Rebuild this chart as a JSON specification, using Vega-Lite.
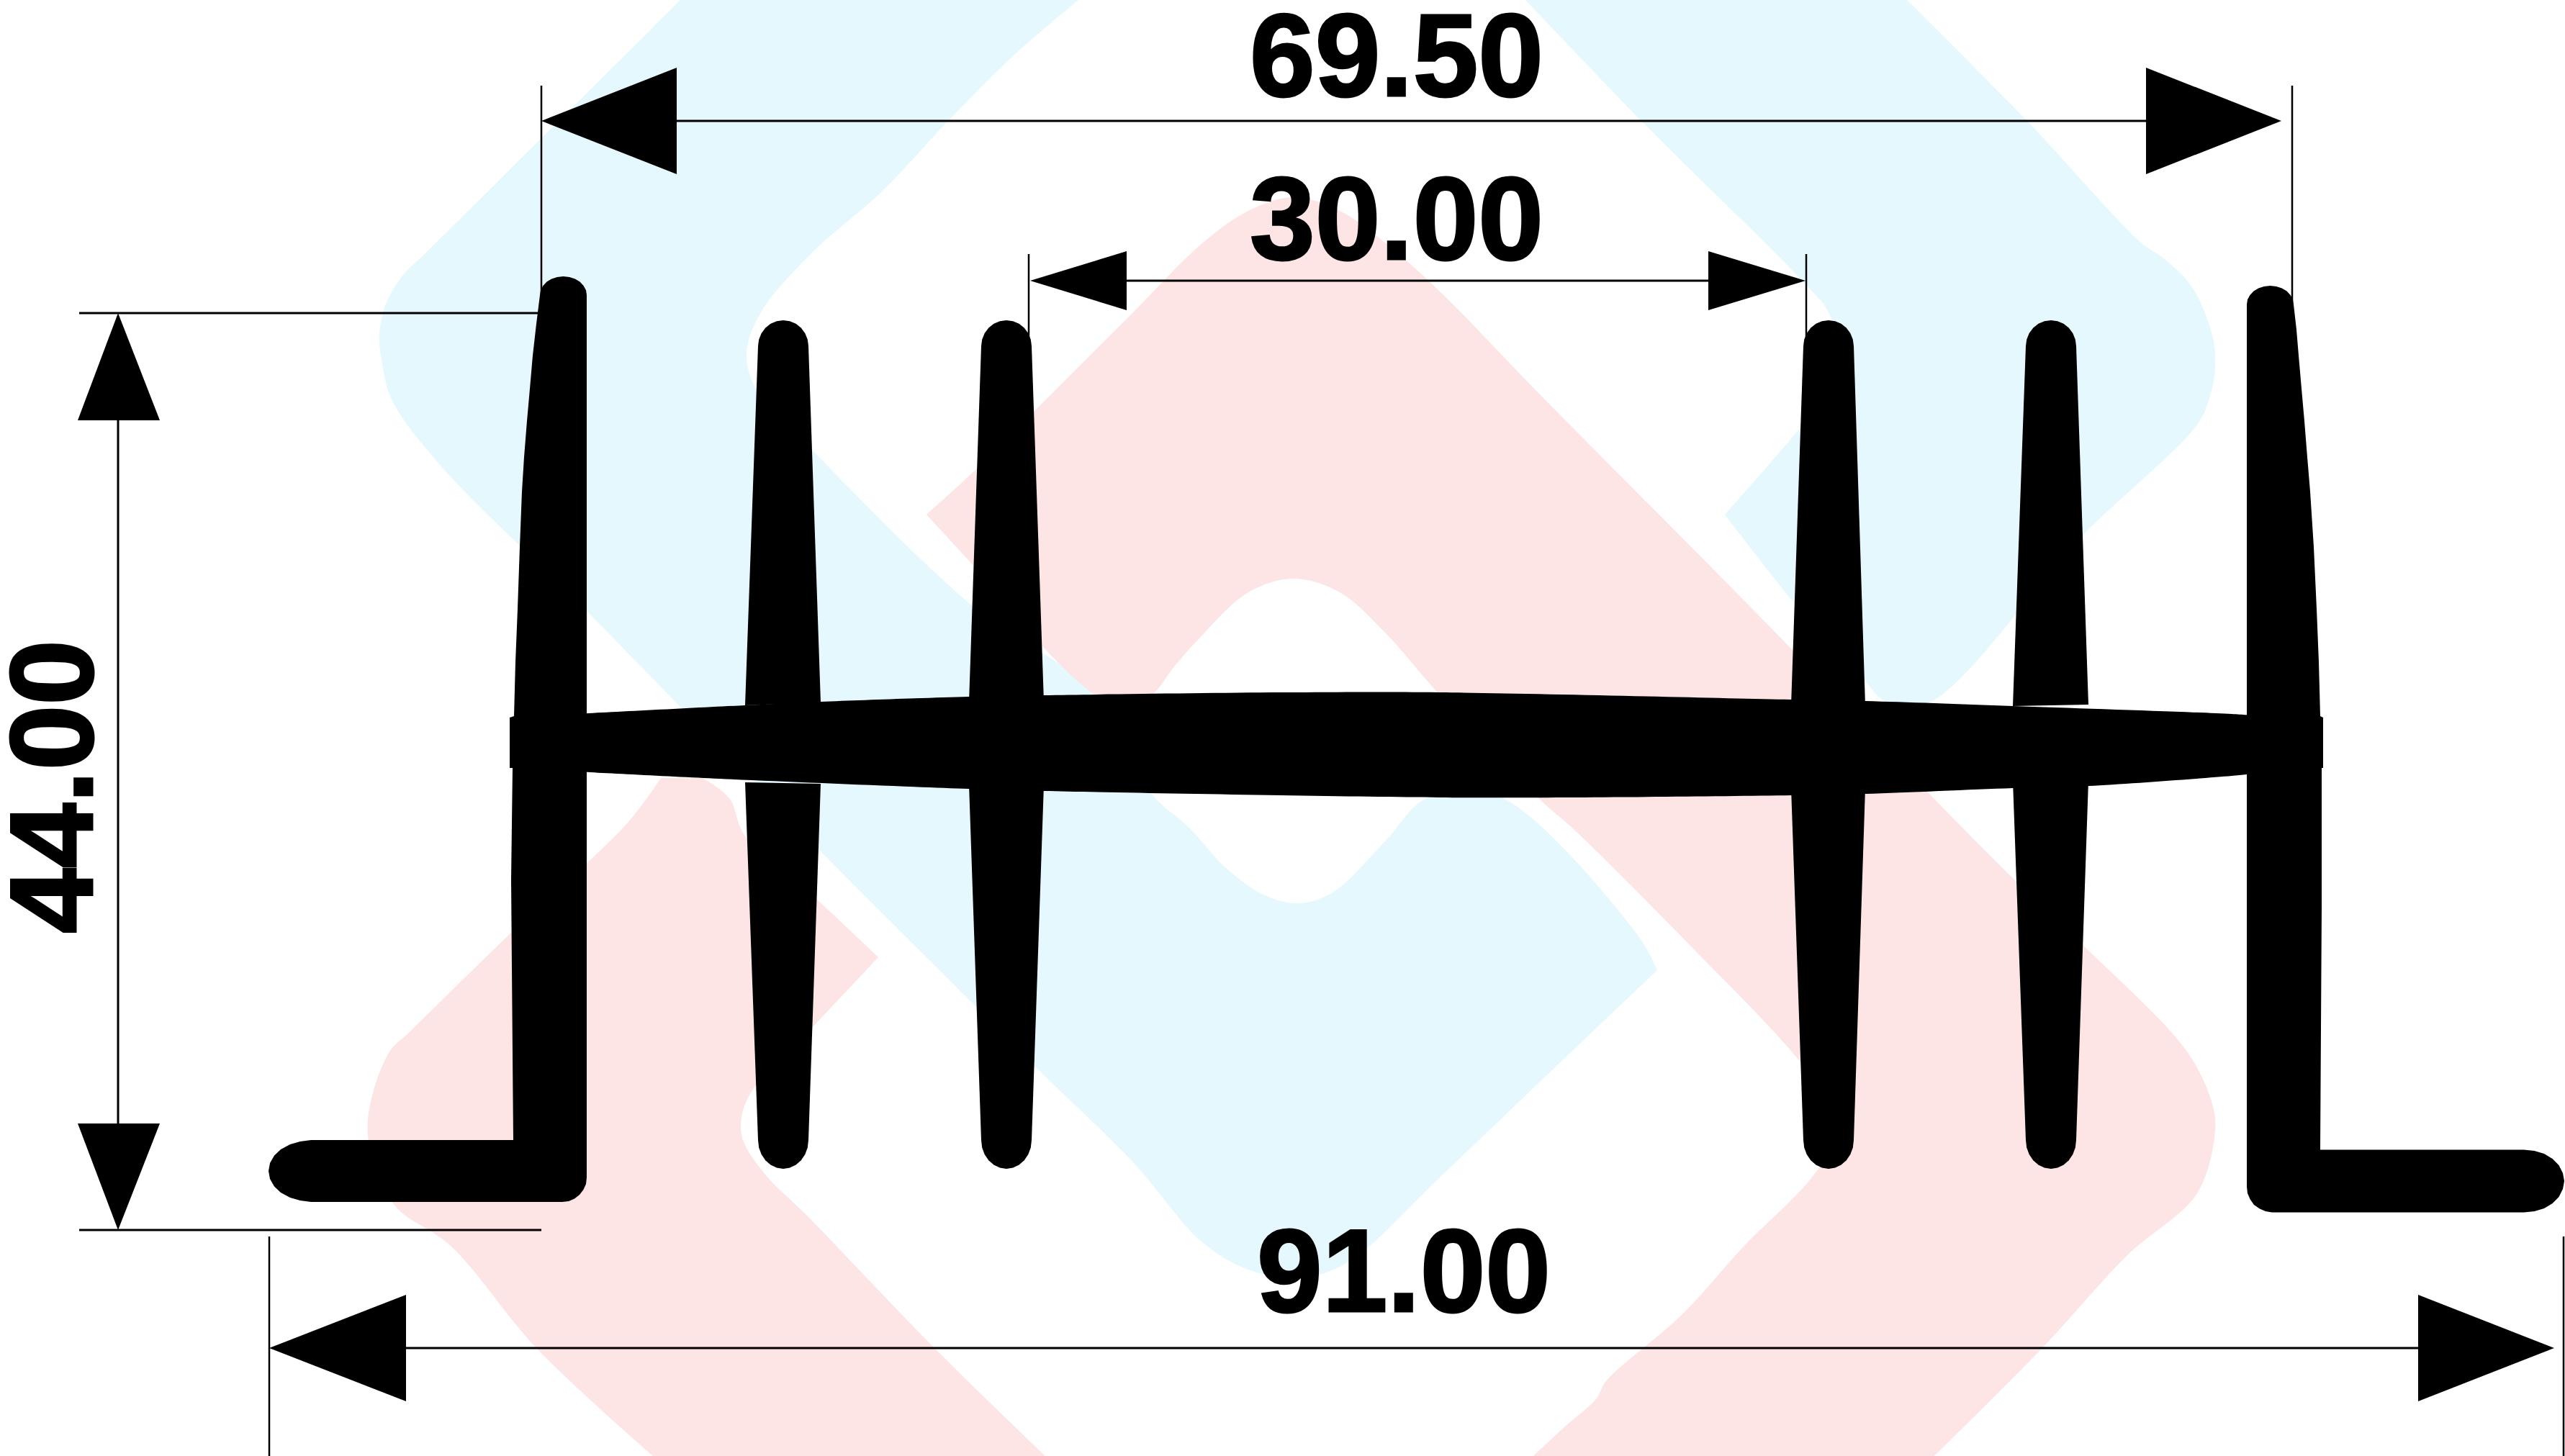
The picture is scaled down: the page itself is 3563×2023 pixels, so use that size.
{"$schema":"https://vega.github.io/schema/vega-lite/v6.json","width":3563,"height":2023,"padding":0,"autosize":{"type":"none"},"background":"#ffffff","config":{"view":{"stroke":null}},
"datasets":{
"blue":[
{"shape":"b1","i":1,"x":945,"y":0},{"shape":"b1","i":1.5,"x":900,"y":45},{"shape":"b1","i":1.7,"x":600,"y":343},{"shape":"b1","i":2,"x":557,"y":386},{"shape":"b1","i":3,"x":535,"y":425},{"shape":"b1","i":4,"x":527,"y":466},{"shape":"b1","i":5,"x":532,"y":512},{"shape":"b1","i":6,"x":545,"y":557},{"shape":"b1","i":7,"x":613,"y":648},{"shape":"b1","i":8,"x":818,"y":852},{"shape":"b1","i":9,"x":1140,"y":1183},{"shape":"b1","i":10,"x":1354,"y":1397},{"shape":"b1","i":11,"x":1440,"y":1484},{"shape":"b1","i":12,"x":1574,"y":1615},{"shape":"b1","i":13,"x":1670,"y":1726},{"shape":"b1","i":14,"x":1734,"y":1764},{"shape":"b1","i":15,"x":1797,"y":1776},{"shape":"b1","i":16,"x":1850,"y":1765},{"shape":"b1","i":17,"x":1893,"y":1739},{"shape":"b1","i":18,"x":2000,"y":1636},{"shape":"b1","i":19,"x":2302,"y":1348},{"shape":"b1","i":19.5,"x":2302,"y":1348},{"shape":"b1","i":20,"x":2274,"y":1298},{"shape":"b1","i":21,"x":2081,"y":1106},{"shape":"b1","i":22,"x":1982,"y":1109},{"shape":"b1","i":23,"x":1925,"y":1168},{"shape":"b1","i":24,"x":1861,"y":1233},{"shape":"b1","i":25,"x":1830,"y":1250},{"shape":"b1","i":26,"x":1797,"y":1255},{"shape":"b1","i":27,"x":1753,"y":1242},{"shape":"b1","i":28,"x":1702,"y":1205},{"shape":"b1","i":29,"x":1651,"y":1149},{"shape":"b1","i":30,"x":1600,"y":1103},{"shape":"b1","i":31,"x":1530,"y":970},{"shape":"b1","i":32,"x":1351,"y":842},{"shape":"b1","i":33,"x":1128,"y":625},{"shape":"b1","i":34,"x":1051,"y":542},{"shape":"b1","i":35,"x":1037,"y":491},{"shape":"b1","i":36,"x":1057,"y":434},{"shape":"b1","i":37,"x":1128,"y":351},{"shape":"b1","i":38,"x":1223,"y":268},{"shape":"b1","i":39,"x":1319,"y":166},{"shape":"b1","i":40,"x":1408,"y":77},{"shape":"b1","i":41,"x":1498,"y":0},
{"shape":"b2","i":1,"x":2119,"y":0},{"shape":"b2","i":2,"x":2281,"y":169},{"shape":"b2","i":3,"x":2509,"y":396},{"shape":"b2","i":4,"x":2540,"y":434},{"shape":"b2","i":5,"x":2560,"y":520},{"shape":"b2","i":6,"x":2491,"y":606},{"shape":"b2","i":7,"x":2396,"y":715},{"shape":"b2","i":7.5,"x":2396,"y":715},{"shape":"b2","i":8,"x":2491,"y":836},{"shape":"b2","i":9,"x":2589,"y":944},{"shape":"b2","i":10,"x":2621,"y":976},{"shape":"b2","i":11,"x":2680,"y":976},{"shape":"b2","i":12,"x":2891,"y":746},{"shape":"b2","i":13,"x":3052,"y":590},{"shape":"b2","i":14,"x":3070,"y":550},{"shape":"b2","i":15,"x":3077,"y":510},{"shape":"b2","i":16,"x":3073,"y":466},{"shape":"b2","i":17,"x":3045,"y":399},{"shape":"b2","i":18,"x":3003,"y":357},{"shape":"b2","i":19,"x":2975,"y":338},{"shape":"b2","i":20,"x":2814,"y":166},{"shape":"b2","i":21,"x":2649,"y":0}
],
"pink":[
{"shape":"p1","i":1,"x":1287,"y":715},{"shape":"p1","i":2,"x":1357,"y":651},{"shape":"p1","i":3,"x":1447,"y":561},{"shape":"p1","i":4,"x":1574,"y":434},{"shape":"p1","i":5,"x":1670,"y":338},{"shape":"p1","i":6,"x":1734,"y":293},{"shape":"p1","i":7,"x":1797,"y":274},{"shape":"p1","i":8,"x":1861,"y":293},{"shape":"p1","i":9,"x":1925,"y":338},{"shape":"p1","i":10,"x":2000,"y":405},{"shape":"p1","i":11,"x":2140,"y":549},{"shape":"p1","i":12,"x":2487,"y":900},{"shape":"p1","i":13,"x":2680,"y":1103},{"shape":"p1","i":14,"x":2800,"y":1224},{"shape":"p1","i":15,"x":2891,"y":1311},{"shape":"p1","i":16,"x":3017,"y":1435},{"shape":"p1","i":17,"x":3050,"y":1480},{"shape":"p1","i":18,"x":3073,"y":1534},{"shape":"p1","i":19,"x":3077,"y":1571},{"shape":"p1","i":20,"x":3052,"y":1658},{"shape":"p1","i":21,"x":2954,"y":1745},{"shape":"p1","i":22,"x":2835,"y":1875},{"shape":"p1","i":23,"x":2687,"y":2023},{"shape":"p1","i":23.5,"x":2687,"y":2023},{"shape":"p1","i":24,"x":2130,"y":2023},{"shape":"p1","i":24.5,"x":2130,"y":2023},{"shape":"p1","i":25,"x":2175,"y":1981},{"shape":"p1","i":26,"x":2217,"y":1944},{"shape":"p1","i":27,"x":2231,"y":1919},{"shape":"p1","i":28,"x":2337,"y":1826},{"shape":"p1","i":29,"x":2421,"y":1733},{"shape":"p1","i":30,"x":2519,"y":1633},{"shape":"p1","i":31,"x":2560,"y":1560},{"shape":"p1","i":32,"x":2498,"y":1472},{"shape":"p1","i":33,"x":2351,"y":1317},{"shape":"p1","i":34,"x":2189,"y":1155},{"shape":"p1","i":35,"x":2137,"y":1109},{"shape":"p1","i":36,"x":1995,"y":960},{"shape":"p1","i":37,"x":1925,"y":880},{"shape":"p1","i":38,"x":1861,"y":823},{"shape":"p1","i":39,"x":1797,"y":804},{"shape":"p1","i":40,"x":1734,"y":823},{"shape":"p1","i":41,"x":1663,"y":890},{"shape":"p1","i":42,"x":1632,"y":925},{"shape":"p1","i":43,"x":1593,"y":970},{"shape":"p1","i":44,"x":1530,"y":970},{"shape":"p1","i":45,"x":1357,"y":791},
{"shape":"p2","i":1,"x":918,"y":1081},{"shape":"p2","i":2,"x":872,"y":1143},{"shape":"p2","i":3,"x":712,"y":1294},{"shape":"p2","i":3.5,"x":570,"y":1433},{"shape":"p2","i":4,"x":540,"y":1463},{"shape":"p2","i":5,"x":511,"y":1555},{"shape":"p2","i":6,"x":520,"y":1620},{"shape":"p2","i":7,"x":551,"y":1678},{"shape":"p2","i":8,"x":626,"y":1731},{"shape":"p2","i":9,"x":746,"y":1874},{"shape":"p2","i":10,"x":907,"y":2023},{"shape":"p2","i":10.5,"x":907,"y":2023},{"shape":"p2","i":11,"x":1452,"y":2023},{"shape":"p2","i":11.5,"x":1452,"y":2023},{"shape":"p2","i":12,"x":1300,"y":1875},{"shape":"p2","i":13,"x":1121,"y":1689},{"shape":"p2","i":14,"x":1064,"y":1633},{"shape":"p2","i":15,"x":1032,"y":1584},{"shape":"p2","i":16,"x":1030,"y":1553},{"shape":"p2","i":17,"x":1045,"y":1515},{"shape":"p2","i":18,"x":1128,"y":1428},{"shape":"p2","i":19,"x":1220,"y":1330},{"shape":"p2","i":19.5,"x":1220,"y":1330},{"shape":"p2","i":20,"x":1137,"y":1252},{"shape":"p2","i":21,"x":1035,"y":1162},{"shape":"p2","i":22,"x":1013,"y":1109},{"shape":"p2","i":23,"x":976,"y":1081}
],
"smooth":[
{"shape":"W","i":1,"x":800,"y":992},{"shape":"W","i":2,"x":1035,"y":980},{"shape":"W","i":3,"x":1140,"y":975},{"shape":"W","i":4,"x":1346,"y":968},{"shape":"W","i":5,"x":1450,"y":966},{"shape":"W","i":6,"x":1797,"y":962},{"shape":"W","i":7,"x":2000,"y":962},{"shape":"W","i":8,"x":2488,"y":972},{"shape":"W","i":9,"x":2591,"y":974},{"shape":"W","i":10,"x":2796,"y":981},{"shape":"W","i":11,"x":3100,"y":992},{"shape":"W","i":12,"x":3130,"y":994},{"shape":"W","i":12.5,"x":3130,"y":994},{"shape":"W","i":13,"x":3130,"y":1075},{"shape":"W","i":13.5,"x":3130,"y":1075},{"shape":"W","i":14,"x":3100,"y":1078},{"shape":"W","i":15,"x":2901,"y":1092},{"shape":"W","i":16,"x":2796,"y":1095},{"shape":"W","i":17,"x":2591,"y":1103},{"shape":"W","i":18,"x":2488,"y":1105},{"shape":"W","i":19,"x":2175,"y":1108},{"shape":"W","i":20,"x":2000,"y":1108},{"shape":"W","i":21,"x":1450,"y":1099},{"shape":"W","i":22,"x":1346,"y":1096},{"shape":"W","i":23,"x":1000,"y":1082},{"shape":"W","i":24,"x":800,"y":1072}
],
"profile":[
{"shape":"L1","i":1,"x":750,"y":410},{"shape":"L1","i":2,"x":751,"y":403.3},{"shape":"L1","i":3,"x":754.4,"y":397},{"shape":"L1","i":4,"x":759.5,"y":391.6},{"shape":"L1","i":5,"x":766.2,"y":387.5},{"shape":"L1","i":6,"x":774,"y":384.9},{"shape":"L1","i":7,"x":782.5,"y":384},{"shape":"L1","i":8,"x":791,"y":384.9},{"shape":"L1","i":9,"x":798.8,"y":387.5},{"shape":"L1","i":10,"x":805.5,"y":391.6},{"shape":"L1","i":11,"x":810.6,"y":397},{"shape":"L1","i":12,"x":814,"y":403.3},{"shape":"L1","i":13,"x":815,"y":410},{"shape":"L1","i":14,"x":815,"y":1636},{"shape":"L1","i":15,"x":814,"y":1645},{"shape":"L1","i":16,"x":810.4,"y":1653},{"shape":"L1","i":17,"x":805,"y":1660},{"shape":"L1","i":18,"x":798,"y":1665.4},{"shape":"L1","i":19,"x":790,"y":1669},{"shape":"L1","i":20,"x":781,"y":1670},{"shape":"L1","i":21,"x":432,"y":1670},{"shape":"L1","i":22,"x":417,"y":1668},{"shape":"L1","i":23,"x":403,"y":1664},{"shape":"L1","i":24,"x":390,"y":1657},{"shape":"L1","i":25,"x":381,"y":1648.5},{"shape":"L1","i":26,"x":375,"y":1638},{"shape":"L1","i":27,"x":373,"y":1627},{"shape":"L1","i":28,"x":375,"y":1616},{"shape":"L1","i":29,"x":381,"y":1605.5},{"shape":"L1","i":30,"x":390,"y":1597},{"shape":"L1","i":31,"x":403,"y":1590},{"shape":"L1","i":32,"x":417,"y":1586},{"shape":"L1","i":33,"x":432,"y":1584},{"shape":"L1","i":34,"x":713,"y":1584},{"shape":"L1","i":35,"x":710,"y":1222},{"shape":"L1","i":36,"x":712,"y":1067},{"shape":"L1","i":37,"x":708,"y":1067},{"shape":"L1","i":38,"x":708,"y":997},{"shape":"L1","i":39,"x":714,"y":995},{"shape":"L1","i":40,"x":716,"y":920},{"shape":"L1","i":41,"x":719,"y":846},{"shape":"L1","i":42,"x":722,"y":760},{"shape":"L1","i":43,"x":725,"y":683},{"shape":"L1","i":44,"x":728,"y":635},{"shape":"L1","i":45,"x":732,"y":585},{"shape":"L1","i":46,"x":736,"y":540},{"shape":"L1","i":47,"x":740,"y":494},{"shape":"L1","i":48,"x":745,"y":450},
{"shape":"L2","i":1,"x":3121,"y":423},{"shape":"L2","i":2,"x":3122,"y":416.3},{"shape":"L2","i":3,"x":3125.4,"y":410},{"shape":"L2","i":4,"x":3130.5,"y":404.6},{"shape":"L2","i":5,"x":3137.2,"y":400.5},{"shape":"L2","i":6,"x":3145,"y":397.9},{"shape":"L2","i":7,"x":3153.5,"y":397},{"shape":"L2","i":8,"x":3162,"y":397.9},{"shape":"L2","i":9,"x":3169.8,"y":400.5},{"shape":"L2","i":10,"x":3176.5,"y":404.6},{"shape":"L2","i":11,"x":3181.6,"y":410},{"shape":"L2","i":12,"x":3185,"y":416.3},{"shape":"L2","i":13,"x":3186,"y":423},{"shape":"L2","i":14,"x":3190,"y":458},{"shape":"L2","i":15,"x":3193,"y":494},{"shape":"L2","i":16,"x":3197,"y":540},{"shape":"L2","i":17,"x":3201,"y":585},{"shape":"L2","i":18,"x":3205,"y":635},{"shape":"L2","i":19,"x":3209,"y":683},{"shape":"L2","i":20,"x":3214,"y":760},{"shape":"L2","i":21,"x":3218,"y":846},{"shape":"L2","i":22,"x":3221,"y":920},{"shape":"L2","i":23,"x":3223,"y":995},{"shape":"L2","i":24,"x":3227,"y":997},{"shape":"L2","i":25,"x":3227,"y":1067},{"shape":"L2","i":26,"x":3225,"y":1067},{"shape":"L2","i":27,"x":3225,"y":1261},{"shape":"L2","i":28,"x":3223,"y":1597.5},{"shape":"L2","i":29,"x":3506,"y":1597.5},{"shape":"L2","i":30,"x":3520.5,"y":1599},{"shape":"L2","i":31,"x":3534,"y":1603},{"shape":"L2","i":32,"x":3545.6,"y":1610},{"shape":"L2","i":33,"x":3554.5,"y":1619},{"shape":"L2","i":34,"x":3560,"y":1630},{"shape":"L2","i":35,"x":3562,"y":1641},{"shape":"L2","i":36,"x":3560,"y":1652},{"shape":"L2","i":37,"x":3554.5,"y":1663},{"shape":"L2","i":38,"x":3545.6,"y":1672},{"shape":"L2","i":39,"x":3534,"y":1679},{"shape":"L2","i":40,"x":3520.5,"y":1683},{"shape":"L2","i":41,"x":3506,"y":1684.5},{"shape":"L2","i":42,"x":3156,"y":1684.5},{"shape":"L2","i":43,"x":3147,"y":1683},{"shape":"L2","i":44,"x":3138.5,"y":1679.3},{"shape":"L2","i":45,"x":3131,"y":1674},{"shape":"L2","i":46,"x":3125.7,"y":1666.5},{"shape":"L2","i":47,"x":3122,"y":1658},{"shape":"L2","i":48,"x":3121,"y":1649},
{"shape":"F1u","i":0,"x":1035,"y":980},{"shape":"F1u","i":1,"x":1053,"y":481},{"shape":"F1u","i":2,"x":1054.2,"y":471.7},{"shape":"F1u","i":3,"x":1057.7,"y":463},{"shape":"F1u","i":4,"x":1063.3,"y":455.5},{"shape":"F1u","i":5,"x":1070.5,"y":449.8},{"shape":"F1u","i":6,"x":1078.9,"y":446.2},{"shape":"F1u","i":7,"x":1088,"y":445},{"shape":"F1u","i":8,"x":1097.1,"y":446.2},{"shape":"F1u","i":9,"x":1105.5,"y":449.8},{"shape":"F1u","i":10,"x":1112.7,"y":455.5},{"shape":"F1u","i":11,"x":1118.3,"y":463},{"shape":"F1u","i":12,"x":1121.8,"y":471.7},{"shape":"F1u","i":13,"x":1123,"y":481},{"shape":"F1u","i":14,"x":1140,"y":976},
{"shape":"F1l","i":0,"x":1035,"y":1087},{"shape":"F1l","i":0.5,"x":1140,"y":1089},{"shape":"F1l","i":1,"x":1123,"y":1584},{"shape":"F1l","i":2,"x":1121.8,"y":1594.4},{"shape":"F1l","i":3,"x":1118.3,"y":1604},{"shape":"F1l","i":4,"x":1112.7,"y":1612.3},{"shape":"F1l","i":5,"x":1105.5,"y":1618.6},{"shape":"F1l","i":6,"x":1097.1,"y":1622.6},{"shape":"F1l","i":7,"x":1088,"y":1624},{"shape":"F1l","i":8,"x":1078.9,"y":1622.6},{"shape":"F1l","i":9,"x":1070.5,"y":1618.6},{"shape":"F1l","i":10,"x":1063.3,"y":1612.3},{"shape":"F1l","i":11,"x":1057.7,"y":1604},{"shape":"F1l","i":12,"x":1054.2,"y":1594.4},{"shape":"F1l","i":13,"x":1053,"y":1584},
{"shape":"F2","i":0,"x":1346,"y":975},{"shape":"F2","i":1,"x":1363,"y":481},{"shape":"F2","i":2,"x":1364.2,"y":471.7},{"shape":"F2","i":3,"x":1367.7,"y":463},{"shape":"F2","i":4,"x":1373.3,"y":455.5},{"shape":"F2","i":5,"x":1380.5,"y":449.8},{"shape":"F2","i":6,"x":1388.9,"y":446.2},{"shape":"F2","i":7,"x":1398,"y":445},{"shape":"F2","i":8,"x":1407.1,"y":446.2},{"shape":"F2","i":9,"x":1415.5,"y":449.8},{"shape":"F2","i":10,"x":1422.7,"y":455.5},{"shape":"F2","i":11,"x":1428.3,"y":463},{"shape":"F2","i":12,"x":1431.8,"y":471.7},{"shape":"F2","i":13,"x":1433,"y":481},{"shape":"F2","i":14,"x":1450,"y":975},{"shape":"F2","i":15,"x":1450,"y":1090},{"shape":"F2","i":16,"x":1433,"y":1584},{"shape":"F2","i":17,"x":1431.8,"y":1594.4},{"shape":"F2","i":18,"x":1428.3,"y":1604},{"shape":"F2","i":19,"x":1422.7,"y":1612.3},{"shape":"F2","i":20,"x":1415.5,"y":1618.6},{"shape":"F2","i":21,"x":1407.1,"y":1622.6},{"shape":"F2","i":22,"x":1398,"y":1624},{"shape":"F2","i":23,"x":1388.9,"y":1622.6},{"shape":"F2","i":24,"x":1380.5,"y":1618.6},{"shape":"F2","i":25,"x":1373.3,"y":1612.3},{"shape":"F2","i":26,"x":1367.7,"y":1604},{"shape":"F2","i":27,"x":1364.2,"y":1594.4},{"shape":"F2","i":28,"x":1363,"y":1584},{"shape":"F2","i":29,"x":1346,"y":1090},
{"shape":"F3","i":0,"x":2488,"y":980},{"shape":"F3","i":1,"x":2505,"y":481},{"shape":"F3","i":2,"x":2506.2,"y":471.7},{"shape":"F3","i":3,"x":2509.7,"y":463},{"shape":"F3","i":4,"x":2515.3,"y":455.5},{"shape":"F3","i":5,"x":2522.5,"y":449.8},{"shape":"F3","i":6,"x":2530.9,"y":446.2},{"shape":"F3","i":7,"x":2540,"y":445},{"shape":"F3","i":8,"x":2549.1,"y":446.2},{"shape":"F3","i":9,"x":2557.5,"y":449.8},{"shape":"F3","i":10,"x":2564.7,"y":455.5},{"shape":"F3","i":11,"x":2570.3,"y":463},{"shape":"F3","i":12,"x":2573.8,"y":471.7},{"shape":"F3","i":13,"x":2575,"y":481},{"shape":"F3","i":14,"x":2591,"y":980},{"shape":"F3","i":15,"x":2591,"y":1095},{"shape":"F3","i":16,"x":2575,"y":1584},{"shape":"F3","i":17,"x":2573.8,"y":1594.4},{"shape":"F3","i":18,"x":2570.3,"y":1604},{"shape":"F3","i":19,"x":2564.7,"y":1612.3},{"shape":"F3","i":20,"x":2557.5,"y":1618.6},{"shape":"F3","i":21,"x":2549.1,"y":1622.6},{"shape":"F3","i":22,"x":2540,"y":1624},{"shape":"F3","i":23,"x":2530.9,"y":1622.6},{"shape":"F3","i":24,"x":2522.5,"y":1618.6},{"shape":"F3","i":25,"x":2515.3,"y":1612.3},{"shape":"F3","i":26,"x":2509.7,"y":1604},{"shape":"F3","i":27,"x":2506.2,"y":1594.4},{"shape":"F3","i":28,"x":2505,"y":1584},{"shape":"F3","i":29,"x":2488,"y":1095},
{"shape":"F4u","i":0,"x":2796,"y":981},{"shape":"F4u","i":1,"x":2814,"y":481},{"shape":"F4u","i":2,"x":2815.2,"y":471.7},{"shape":"F4u","i":3,"x":2818.7,"y":463},{"shape":"F4u","i":4,"x":2824.3,"y":455.5},{"shape":"F4u","i":5,"x":2831.5,"y":449.8},{"shape":"F4u","i":6,"x":2839.9,"y":446.2},{"shape":"F4u","i":7,"x":2849,"y":445},{"shape":"F4u","i":8,"x":2858.1,"y":446.2},{"shape":"F4u","i":9,"x":2866.5,"y":449.8},{"shape":"F4u","i":10,"x":2873.7,"y":455.5},{"shape":"F4u","i":11,"x":2879.3,"y":463},{"shape":"F4u","i":12,"x":2882.8,"y":471.7},{"shape":"F4u","i":13,"x":2884,"y":481},{"shape":"F4u","i":14,"x":2901,"y":979},
{"shape":"F4l","i":0,"x":2796,"y":1085},{"shape":"F4l","i":0.5,"x":2901,"y":1085},{"shape":"F4l","i":1,"x":2884,"y":1584},{"shape":"F4l","i":2,"x":2882.8,"y":1594.4},{"shape":"F4l","i":3,"x":2879.3,"y":1604},{"shape":"F4l","i":4,"x":2873.7,"y":1612.3},{"shape":"F4l","i":5,"x":2866.5,"y":1618.6},{"shape":"F4l","i":6,"x":2858.1,"y":1622.6},{"shape":"F4l","i":7,"x":2849,"y":1624},{"shape":"F4l","i":8,"x":2839.9,"y":1622.6},{"shape":"F4l","i":9,"x":2831.5,"y":1618.6},{"shape":"F4l","i":10,"x":2824.3,"y":1612.3},{"shape":"F4l","i":11,"x":2818.7,"y":1604},{"shape":"F4l","i":12,"x":2815.2,"y":1594.4},{"shape":"F4l","i":13,"x":2814,"y":1584},
{"shape":"A1","i":1,"x":752,"y":168},{"shape":"A1","i":2,"x":940,"y":94},{"shape":"A1","i":3,"x":940,"y":242},
{"shape":"A2","i":1,"x":3169,"y":168},{"shape":"A2","i":2,"x":2981,"y":94},{"shape":"A2","i":3,"x":2981,"y":242},
{"shape":"A3","i":1,"x":1431,"y":390},{"shape":"A3","i":2,"x":1565,"y":349},{"shape":"A3","i":3,"x":1565,"y":431},
{"shape":"A4","i":1,"x":2508,"y":390},{"shape":"A4","i":2,"x":2373,"y":349},{"shape":"A4","i":3,"x":2373,"y":431},
{"shape":"A5","i":1,"x":164,"y":435},{"shape":"A5","i":2,"x":108,"y":584},{"shape":"A5","i":3,"x":222,"y":584},
{"shape":"A6","i":1,"x":164,"y":1709},{"shape":"A6","i":2,"x":108,"y":1561},{"shape":"A6","i":3,"x":222,"y":1561},
{"shape":"A7","i":1,"x":374,"y":1873},{"shape":"A7","i":2,"x":564,"y":1799},{"shape":"A7","i":3,"x":564,"y":1947},
{"shape":"A8","i":1,"x":3548,"y":1873},{"shape":"A8","i":2,"x":3359,"y":1799},{"shape":"A8","i":3,"x":3359,"y":1947}
],
"rules":[
{"kind":"dim","x":940,"y":168,"x2":2981,"y2":168},{"kind":"dim","x":1565,"y":390,"x2":2373,"y2":390},{"kind":"dim","x":564,"y":1873,"x2":3359,"y2":1873},{"kind":"dim","x":164,"y":584,"x2":164,"y2":1561},{"kind":"dim","x":110,"y":435,"x2":752,"y2":435},{"kind":"dim","x":110,"y":1709,"x2":752,"y2":1709},
{"kind":"ext","x":752,"y":119,"x2":752,"y2":430},{"kind":"ext","x":3184,"y":119,"x2":3184,"y2":425},{"kind":"ext","x":1429,"y":353,"x2":1429,"y2":475},{"kind":"ext","x":2509,"y":353,"x2":2509,"y2":470},{"kind":"ext","x":374,"y":1718,"x2":374,"y2":2023},{"kind":"ext","x":3561,"y":1718,"x2":3561,"y2":2023}
],
"labels":[{"label":"69.50","x":1940,"y":133},{"label":"30.00","x":1940,"y":360},{"label":"91.00","x":1950,"y":1822}],
"vlabels":[{"label":"44.00","x":128,"y":1093}]
},
"layer":[
{"data":{"name":"blue"},"mark":{"type":"line","fill":"#E4F8FE","strokeWidth":0,"interpolate":"catmull-rom"},"encoding":{"x":{"field":"x","type":"quantitative","scale":{"domain":[0,3563],"nice":false,"zero":false},"axis":null},"y":{"field":"y","type":"quantitative","scale":{"domain":[2023,0],"nice":false,"zero":false},"axis":null},"detail":{"field":"shape"},"order":{"field":"i","type":"quantitative"}}},
{"data":{"name":"pink"},"mark":{"type":"line","fill":"#FDE4E5","strokeWidth":0,"interpolate":"catmull-rom"},"encoding":{"x":{"field":"x","type":"quantitative","axis":null},"y":{"field":"y","type":"quantitative","axis":null},"detail":{"field":"shape"},"order":{"field":"i","type":"quantitative"}}},
{"data":{"name":"rules"},"mark":{"type":"rule","color":"#000000"},"encoding":{"x":{"field":"x","type":"quantitative","axis":null},"y":{"field":"y","type":"quantitative","axis":null},"x2":{"field":"x2"},"y2":{"field":"y2"},"strokeWidth":{"field":"kind","type":"nominal","scale":{"domain":["dim","ext"],"range":[3,2.5]},"legend":null}}},
{"data":{"name":"profile"},"mark":{"type":"line","fill":"#000000","strokeWidth":0,"interpolate":"linear"},"encoding":{"x":{"field":"x","type":"quantitative","axis":null},"y":{"field":"y","type":"quantitative","axis":null},"detail":{"field":"shape"},"order":{"field":"i","type":"quantitative"}}},
{"data":{"name":"smooth"},"mark":{"type":"line","fill":"#000000","strokeWidth":0,"interpolate":"catmull-rom"},"encoding":{"x":{"field":"x","type":"quantitative","axis":null},"y":{"field":"y","type":"quantitative","axis":null},"detail":{"field":"shape"},"order":{"field":"i","type":"quantitative"}}},
{"data":{"name":"labels"},"mark":{"type":"text","font":"Liberation Sans","fontWeight":"bold","fontSize":163,"align":"center","baseline":"alphabetic","color":"#000000","stroke":"#000000","strokeWidth":3},"encoding":{"x":{"field":"x","type":"quantitative","axis":null},"y":{"field":"y","type":"quantitative","axis":null},"text":{"field":"label"}}},
{"data":{"name":"vlabels"},"mark":{"type":"text","font":"Liberation Sans","fontWeight":"bold","fontSize":163,"align":"center","baseline":"alphabetic","angle":270,"color":"#000000","stroke":"#000000","strokeWidth":3},"encoding":{"x":{"field":"x","type":"quantitative","axis":null},"y":{"field":"y","type":"quantitative","axis":null},"text":{"field":"label"}}}
]}
